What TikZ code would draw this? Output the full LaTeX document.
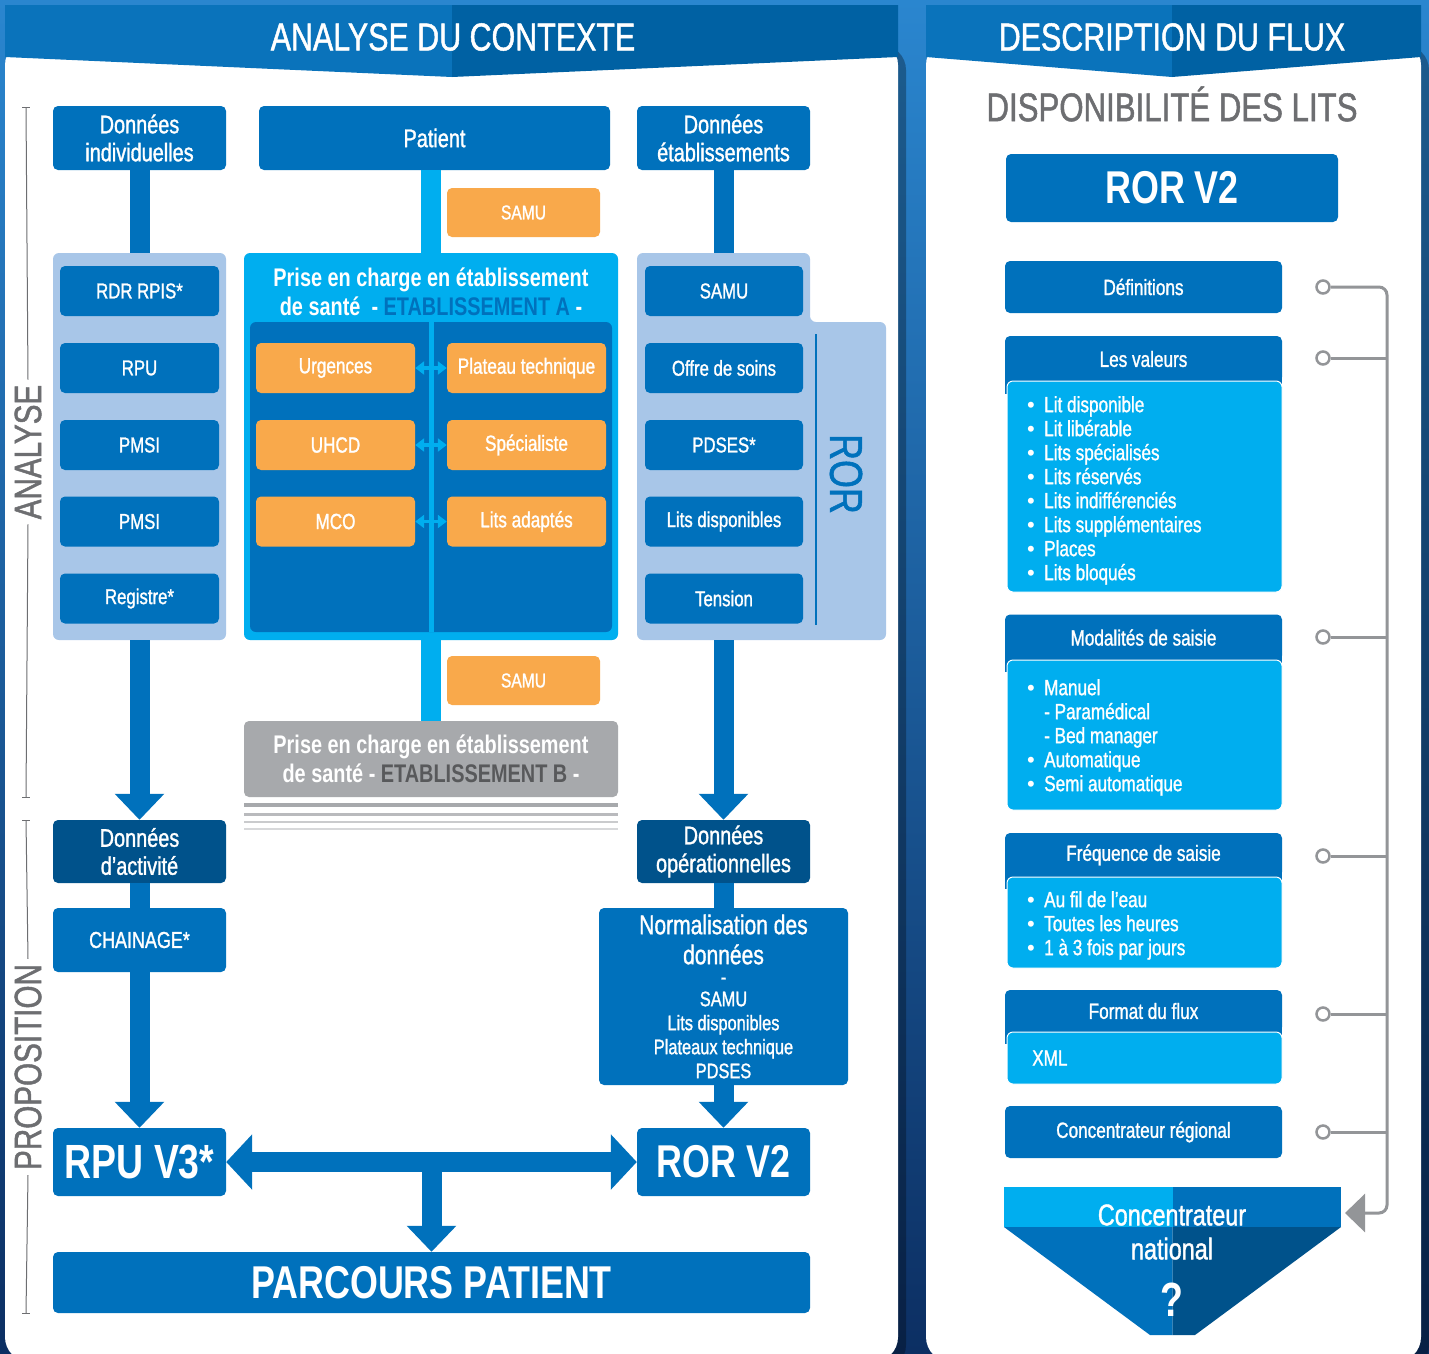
\documentclass[tikz,border=0pt]{standalone}
\usepackage{fontspec}
\setmainfont{Liberation Sans}[FakeStretch=0.78, UprightFeatures={FakeBold=1.2}]
\newfontfamily\plainfont{Liberation Sans}
\usetikzlibrary{arrows.meta}

\definecolor{mblue}{HTML}{0071BC}
\definecolor{dblue}{HTML}{00528B}
\definecolor{cyanb}{HTML}{00AEEF}
\definecolor{lgroup}{HTML}{A8C6E8}
\definecolor{orng}{HTML}{F9A94B}
\definecolor{greybox}{HTML}{A7A9AC}
\definecolor{greytxt}{HTML}{6D6E71}
\definecolor{greydark}{HTML}{58595B}
\definecolor{greyline}{HTML}{939598}
\definecolor{headL}{HTML}{0A73BB}
\definecolor{headR}{HTML}{0061A3}
\definecolor{bgtop}{HTML}{2A86CF}
\definecolor{bgbot}{HTML}{0C2F63}

\newcommand\fsz[2]{\fontsize{#1}{#2}\selectfont}
\newcommand\itm{\makebox[17pt][l]{\plainfont\textbullet}}

\tikzset{
  bluebox/.style={fill=mblue, text=white, rounded corners=5pt, inner sep=0pt, align=center},
  darkbox/.style={bluebox, fill=dblue},
  orangebox/.style={bluebox, fill=orng, minimum width=159pt, minimum height=50pt, font=\fsz{22}{25}},
  itembox/.style={bluebox, minimum width=159pt, minimum height=50pt, font=\fsz{21.5}{24}},
  groupbox/.style={fill=lgroup, rounded corners=6pt, inner sep=0pt},
  headbox/.style={bluebox, minimum width=277pt, font=\fsz{22}{24}},
  bodybox/.style={fill=cyanb, draw=white, line width=1pt, rounded corners=6pt, inner sep=0pt, minimum width=275pt},
  listtext/.style={text=white, anchor=north west, align=left, inner sep=0pt, font=\fsz{22}{24}},
  bar/.style={line width=20pt, mblue},
  cbar/.style={line width=20pt, cyanb},
  bigarrow/.style={bar, -{Triangle[width=48pt,length=26pt]}},
  dot/.style={circle, draw=greyline, fill=white, line width=2.5pt, minimum size=13pt, inner sep=0pt},
  gline/.style={draw=greyline, line width=3pt},
  sidelabel/.style={text=greytxt, rotate=90, inner sep=5pt, font=\fsz{38}{40}},
}

\begin{document}
\begin{tikzpicture}[x=1pt, y=-1pt]
  \useasboundingbox (0,0) rectangle (1429,1353);
  \shade[top color=bgtop, bottom color=bgbot] (0,0) rectangle (1429,1353);
  \fill[black, opacity=.3, rounded corners=25pt] (12,45) rectangle (906,1370);
  \fill[black, opacity=.3, rounded corners=25pt] (933,45) rectangle (1429,1370);
  \fill[white, rounded corners=25pt] (5,40) rectangle (898,1362);
  \fill[white, rounded corners=25pt] (926,40) rectangle (1421,1362);

  % headers
  \fill[headL] (5,5) -- (452,5) -- (452,77) -- (5,57) -- cycle;
  \fill[headR] (452,5) -- (898,5) -- (898,57) -- (452,77) -- cycle;
  \fill[headL] (926,5) -- (1172,5) -- (1172,77) -- (926,57) -- cycle;
  \fill[headR] (1172,5) -- (1421,5) -- (1421,57) -- (1172,77) -- cycle;
  \node[text=white, font=\fsz{39}{42}] (headA) at (453,37) {ANALYSE DU CONTEXTE};
  \node[text=white, font=\fsz{39}{42}] (headB) at (1172,37) {DESCRIPTION DU FLUX};

  % side labels
  \node[sidelabel] (analyse) at (28,452) {ANALYSE};
  \node[sidelabel] (propo) at (28,1067) {PROPOSITION};
  \draw[greytxt, line width=1pt] (26,107) -- (analyse.east);
  \draw[greytxt, line width=1pt] (analyse.west) -- (26,797);
  \draw[greytxt, line width=1pt] (26,820) -- (propo.east);
  \draw[greytxt, line width=1pt] (propo.west) -- (26,1313);
  \foreach \y in {107,797,820,1313}
    \draw[greytxt, line width=1pt] (22,\y) -- (30,\y);

  % top row
  \node[bluebox, minimum width=173pt, minimum height=64pt, font=\fsz{25.5}{28}] (indiv) at (139.5,138) {Données\\individuelles};
  \node[bluebox, minimum width=351pt, minimum height=64pt, font=\fsz{25.5}{28}] (patient) at (434.5,138) {Patient};
  \node[bluebox, minimum width=173pt, minimum height=64pt, font=\fsz{25.5}{28}] (etab) at (723.5,138) {Données\\établissements};

  % left group
  \node[groupbox, minimum width=173pt, minimum height=387pt] (grpL) at (139.5,446.5) {};
  \node[itembox] (rdr) at (139.5,291) {RDR RPIS*};
  \node[itembox] (rpu1) at (139.5,368) {RPU};
  \node[itembox] (pmsi1) at (139.5,445) {PMSI};
  \node[itembox] (pmsi2) at (139.5,521.5) {PMSI};
  \node[itembox] (regis) at (139.5,598.5) {Registre*};

  % establishment A
  \node[fill=cyanb, rounded corners=6pt, inner sep=0pt, minimum width=374pt, minimum height=387pt] (grpA) at (431,446.5) {};
  \fill[mblue, rounded corners=6pt] (250,322) rectangle (612,632);
  \fill[cyanb] (429,322) rectangle (434,632);
  \node[text=white, align=center, font=\bfseries\fsz{25.5}{29}] (titA) at (431,292) {Prise en charge en établissement\\de santé \ - \textcolor{mblue}{ETABLISSEMENT A} -};
  \node[orangebox] (urg) at (335.5,368) {Urgences};
  \node[orangebox] (plat) at (526.5,368) {Plateau technique};
  \node[orangebox] (uhcd) at (335.5,445) {UHCD};
  \node[orangebox] (spec) at (526.5,445) {Spécialiste};
  \node[orangebox] (mco) at (335.5,521.5) {MCO};
  \node[orangebox] (adapt) at (526.5,521.5) {Lits adaptés};
  \foreach \a/\b in {urg/plat,uhcd/spec,mco/adapt}
    \draw[cyanb, line width=3.5pt, {Triangle[width=13pt,length=9pt]}-{Triangle[width=13pt,length=9pt]}] (\a) -- (\b);

  % right group
  \fill[lgroup, rounded corners=6pt] (637,253) -- (810,253) -- (810,322) -- (886,322) -- (886,640) -- (637,640) -- cycle;
  \coordinate (grpRtop) at (723.5,253);
  \coordinate (grpRbot) at (723.5,640);
  \node[itembox, minimum width=158pt] (rsamu) at (724,291) {SAMU};
  \node[itembox, minimum width=158pt] (offre) at (724,368) {Offre de soins};
  \node[itembox, minimum width=158pt] (pdses) at (724,445) {PDSES*};
  \node[itembox, minimum width=158pt] (litsd) at (724,521.5) {Lits disponibles};
  \node[itembox, minimum width=158pt] (tension) at (724,598.5) {Tension};
  \draw[mblue, line width=2.5pt] (816,334) -- (816,625);
  \node[text=mblue, rotate=-90, font=\fsz{46}{48}] (rorlabel) at (846,474) {ROR};

  % samu
  \node[orangebox, minimum width=153pt, minimum height=49pt, font=\fsz{20}{24}] (samu1) at (523.5,212.5) {SAMU};
  \node[orangebox, minimum width=153pt, minimum height=49pt, font=\fsz{20}{24}] (samu2) at (523.5,680.5) {SAMU};

  % establishment B
  \node[bluebox, fill=greybox, minimum width=374pt, minimum height=76pt, font=\bfseries\fsz{25.5}{29}] (etabB) at (431,759) {Prise en charge en établissement\\de santé - \textcolor{greydark}{ETABLISSEMENT B} -};
  \draw[greybox, line width=4pt] (244,805) -- (618,805);
  \draw[greybox!80, line width=3pt] (244,814) -- (618,814);
  \draw[greybox!60, line width=2.5pt] (244,822) -- (618,822);
  \draw[greybox!45, line width=2pt] (244,829) -- (618,829);

  % proposition
  \node[darkbox, minimum width=173pt, minimum height=63pt, font=\fsz{25.5}{28}] (activ) at (139.5,851.5) {Données\\d’activité};
  \node[darkbox, minimum width=173pt, minimum height=63pt, font=\fsz{25.5}{28}] (operat) at (723.5,851.5) {Données\\opérationnelles};
  \node[bluebox, minimum width=173pt, minimum height=64pt, font=\fsz{23}{28}] (chain) at (139.5,940) {CHAINAGE*};
  \node[bluebox, minimum width=249pt, minimum height=177pt, font=\fsz{21}{24}] (norm) at (723.5,996.5) {\fsz{27}{29}Normalisation des\\[6pt]\fsz{27}{29}données\\[-4pt]-\\[-2pt]SAMU\\Lits disponibles\\Plateaux technique\\PDSES};
  \node[bluebox, minimum width=173pt, minimum height=68pt, font=\bfseries\fsz{48}{50}] (rpu) at (139.5,1162) {RPU V3*};
  \node[bluebox, minimum width=173pt, minimum height=68pt, font=\bfseries\fsz{46}{50}] (ror) at (723.5,1162) {ROR V2};
  \node[bluebox, minimum width=757pt, minimum height=61pt, font=\bfseries\fsz{46}{50}] (parcours) at (431.5,1282.5) {PARCOURS PATIENT};

  % flows
  \draw[bar] (indiv) -- (grpL);
  \draw[cbar] (patient.south -| grpA.north) -- (grpA.north);
  \draw[bar] (etab) -- (grpRtop);
  \draw[cbar] (grpA) -- (etabB);
  \draw[bigarrow] (grpL) -- (activ);
  \draw[bigarrow] (grpRbot) -- (operat);
  \draw[bar] (activ) -- (chain);
  \draw[bigarrow] (chain) -- (rpu);
  \draw[bar] (operat) -- (norm);
  \draw[bigarrow] (norm) -- (ror);
  \draw[bar, {Triangle[width=54pt,length=26pt]}-{Triangle[width=54pt,length=26pt]}] (rpu) -- (ror);
  \path (rpu) -- (ror) coordinate[midway] (hub);
  \draw[bigarrow] (hub) -- (parcours);

  % description du flux
  \node[text=greytxt, font=\fsz{40}{44}] (dispo) at (1172,104) {DISPONIBILITÉ DES LITS};
  \node[bluebox, minimum width=332pt, minimum height=68pt, font=\bfseries\fsz{46}{50}] (rorv) at (1172,188) {ROR V2};
  \node[headbox, minimum height=52pt] (defs) at (1143.5,287) {Définitions};

  \node[headbox, minimum height=46pt] (valh) at (1143.5,359) {Les valeurs};
  \fill[mblue] (1005,372) rectangle (1282,394);
  \node[bodybox, minimum height=211pt] (valb) at (1144.5,486.5) {};
  \node[listtext] (vall) at (1027,396) {\itm Lit disponible\\\itm Lit libérable\\\itm Lits spécialisés\\\itm Lits réservés\\\itm Lits indifférenciés\\\itm Lits supplémentaires\\\itm Places\\\itm Lits bloqués};

  \node[headbox, minimum height=46pt] (modh) at (1143.5,637.5) {Modalités de saisie};
  \fill[mblue] (1005,650) rectangle (1282,672);
  \node[bodybox, minimum height=150pt] (modb) at (1144.5,735) {};
  \node[listtext] (modl) at (1027,679) {\itm Manuel\\\makebox[17pt]{}- Paramédical\\\makebox[17pt]{}- Bed manager\\\itm Automatique\\\itm Semi automatique};

  \node[headbox, minimum height=44pt] (freqh) at (1143.5,855) {Fréquence de saisie};
  \fill[mblue] (1005,866) rectangle (1282,889);
  \node[bodybox, minimum height=91pt] (freqb) at (1144.5,922.5) {};
  \node[listtext] (freql) at (1027,891) {\itm Au fil de l’eau\\\itm Toutes les heures\\\itm 1 à 3 fois par jours};

  \node[headbox, minimum height=42pt] (fmth) at (1143.5,1011) {Format du flux};
  \fill[mblue] (1005,1022) rectangle (1282,1044);
  \node[bodybox, minimum height=52pt] (fmtb) at (1144.5,1058) {};
  \node[text=white, anchor=west, inner sep=0pt, font=\fsz{22}{24}] (xml) at (1032,1058) {XML};

  \node[headbox, minimum height=52pt] (regional) at (1143.5,1132) {Concentrateur régional};

  % concentrateur national
  \fill[cyanb] (1004,1187) rectangle (1172.5,1227);
  \fill[mblue] (1172.5,1187) rectangle (1341,1227);
  \fill[mblue] (1004,1227) -- (1172.5,1227) -- (1172.5,1335) -- (1150,1335) -- cycle;
  \fill[dblue] (1172.5,1227) -- (1341,1227) -- (1195,1335) -- (1172.5,1335) -- cycle;
  \node[text=white, align=center, font=\fsz{30}{34}] (natl) at (1172,1232) {Concentrateur\\national};
  \node[text=white, font=\bfseries\fsz{48}{50}] (quest) at (1172,1300) {?};
  \coordinate (natlR) at (1345,1213);

  % connecteurs
  \node[dot] (c1) at (1323,287) {};
  \node[dot] (c2) at (1323,358) {};
  \node[dot] (c3) at (1323,637) {};
  \node[dot] (c4) at (1323,856) {};
  \node[dot] (c5) at (1323,1014) {};
  \node[dot] (c6) at (1323,1132) {};
  \coordinate (spine) at (1387,1213);
  \draw[gline, rounded corners=8pt, -{Triangle[width=38pt,length=20pt]}] (c1) -| (spine) -- (natlR);
  \foreach \c in {c2,c3,c4,c5,c6}
    \draw[gline] (\c) -- (\c -| spine);
\end{tikzpicture}
\end{document}
